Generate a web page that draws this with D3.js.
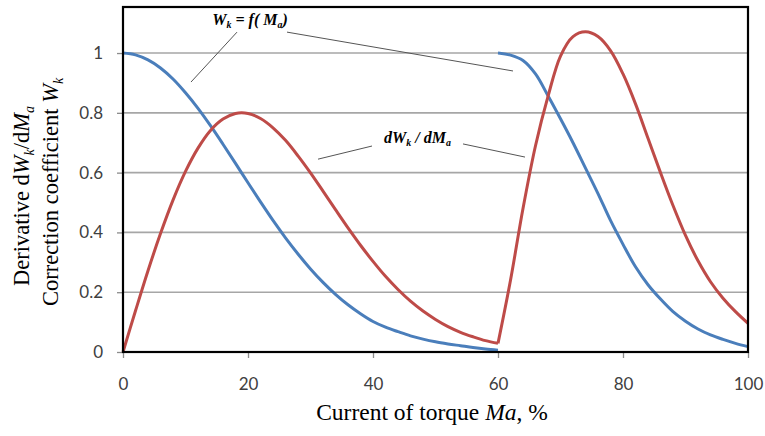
<!DOCTYPE html>
<html>
<head>
<meta charset="utf-8">
<script src="https://cdn.jsdelivr.net/npm/d3@7"></script>
<style>
  html, body { margin: 0; padding: 0; background: #fff; }
  svg { display: block; }
</style>
</head>
<body>
<svg id="chart" width="765" height="436"></svg>
<script>
// ---------- data ----------
const xPart1 = [0,2,4,6,8,10,12,14,16,18,20,22,24,26,28,30,32,34,36,38,40,42,44,46,48,50,52,54,56,58,60];
const wk1 = [1,0.994,0.977,0.95,0.913,0.867,0.815,0.757,0.695,0.631,0.566,0.502,0.44,0.382,0.328,0.278,0.233,0.193,0.158,0.128,0.102,0.083,0.068,0.054,0.043,0.034,0.027,0.021,0.015,0.01,0.006];
const dwk1 = [0,0.138,0.272,0.396,0.508,0.604,0.682,0.741,0.779,0.798,0.798,0.781,0.75,0.708,0.656,0.599,0.538,0.476,0.415,0.357,0.303,0.253,0.209,0.17,0.137,0.109,0.085,0.066,0.051,0.038,0.029];

const xPart2 = [60,62,64,66,68,70,72,74,76,78,80,82,84,86,88,90,92,94,96,98,100];
const wk2 = [1,0.993,0.975,0.93,0.857,0.78,0.7,0.615,0.53,0.44,0.36,0.285,0.225,0.177,0.135,0.103,0.077,0.057,0.042,0.029,0.018];
const dwk2 = [0.029,0.24,0.48,0.69,0.855,0.99,1.055,1.071,1.055,1.008,0.93,0.83,0.715,0.6,0.49,0.39,0.305,0.235,0.18,0.135,0.096];

const xTicks = [0,20,40,60,80,100];
const yTicks = [0,0.2,0.4,0.6,0.8,1];
const yTickLabels = ["0","0.2","0.4","0.6","0.8","1"];
const xDomain = [0,100];
const yDomain = [0,1.154];

// annotation leader lines, in data units
const leaderLines = [
  [[18.24,1.070],[10.88,0.903]],
  [[26.24,1.070],[62.4,0.940]],
  [[39.84,0.689],[31.2,0.645]],
  [[54.4,0.696],[64.32,0.652]]
];

// ---------- layout ----------
const svg = d3.select("#chart");
const L = 123, R = 748, T = 7, B = 352;
const x = d3.scaleLinear(xDomain, [L, R]);
const y = d3.scaleLinear(yDomain, [B, T]);

const blue = "#4a7ebb", red = "#be4b48";

// gridlines
svg.append("g").selectAll("line")
  .data(yTicks.filter(d => d > 0))
  .join("line")
  .attr("x1", L).attr("x2", R)
  .attr("y1", d => y(d)).attr("y2", d => y(d))
  .attr("stroke", "#a6a6a6").attr("stroke-width", 1.6);

// axes
const tickFont = "Lato, 'Open Sans', sans-serif";
const yAxis = svg.append("g").attr("transform", `translate(${L},0)`)
  .call(d3.axisLeft(y).tickValues(yTicks).tickSize(6).tickPadding(14)
    .tickFormat((d,i) => yTickLabels[i]));
const xAxis = svg.append("g").attr("transform", `translate(0,${B})`)
  .call(d3.axisBottom(x).tickValues(xTicks).tickSize(6).tickPadding(20));
[yAxis, xAxis].forEach(g => {
  g.select(".domain").remove();
  g.selectAll(".tick line").attr("stroke", "#8c8c8c").attr("stroke-width", 1.3);
  g.selectAll(".tick text").attr("fill", "#404040")
    .style("font-family", tickFont).style("font-size", "17px");
});

// curves
const line = d3.line().x(d => x(d[0])).y(d => y(d[1])).curve(d3.curveCatmullRom.alpha(0.5));
const series = [
  {xs: xPart1, ys: wk1, color: blue},
  {xs: xPart2, ys: wk2, color: blue},
  {xs: xPart1, ys: dwk1, color: red},
  {xs: xPart2, ys: dwk2, color: red}
];
svg.append("g").selectAll("path")
  .data(series)
  .join("path")
  .attr("d", s => line(s.xs.map((v, i) => [v, s.ys[i]])))
  .attr("fill", "none")
  .attr("stroke", s => s.color)
  .attr("stroke-width", 3)
  .attr("stroke-linejoin", "round");

// plot border
svg.append("rect")
  .attr("x", L).attr("y", T).attr("width", R - L).attr("height", B - T)
  .attr("fill", "none").attr("stroke", "#000").attr("stroke-width", 2.2);

// leader lines
svg.append("g").selectAll("line")
  .data(leaderLines)
  .join("line")
  .attr("x1", d => x(d[0][0])).attr("y1", d => y(d[0][1]))
  .attr("x2", d => x(d[1][0])).attr("y2", d => y(d[1][1]))
  .attr("stroke", "#555").attr("stroke-width", 1);

// annotation labels
const serif = "'Liberation Serif', 'Times New Roman', serif";
function richText(g, parts, size) {
  parts.forEach(p => {
    const t = g.append("tspan").text(p.t);
    if (p.i) t.style("font-style", "italic");
    if (p.sub) t.style("font-size", (size * 0.62) + "px").attr("dy", p.sub);
    if (p.up) t.attr("dy", p.up);
  });
}
const ann1 = svg.append("text")
  .attr("x", x(20.32)).attr("y", y(1.094))
  .attr("text-anchor", "middle")
  .style("font-family", serif).style("font-size", "16px")
  .style("font-weight", "bold").style("font-style", "italic");
richText(ann1, [
  {t: "W"}, {t: "k", sub: 3}, {t: " = f( M", up: -3}, {t: "a", sub: 3}, {t: ")", up: -3}
], 16);

const ann2 = svg.append("text")
  .attr("x", x(47.12)).attr("y", y(0.699))
  .attr("text-anchor", "middle")
  .style("font-family", serif).style("font-size", "16px")
  .style("font-weight", "bold").style("font-style", "italic");
richText(ann2, [
  {t: "dW"}, {t: "k", sub: 3}, {t: " / dM", up: -3}, {t: "a", sub: 3}
], 16);

// axis titles
const xt = svg.append("text")
  .attr("x", 432).attr("y", 420)
  .attr("text-anchor", "middle")
  .style("font-family", serif).style("font-size", "23.5px").attr("fill", "#000");
richText(xt, [{t: "Current of torque "}, {t: "Ma", i: true}, {t: ", %"}], 23.5);

const yt1 = svg.append("text")
  .attr("transform", "translate(28.5,196) rotate(-90)")
  .attr("text-anchor", "middle")
  .style("font-family", serif).style("font-size", "22.5px").attr("fill", "#000");
richText(yt1, [
  {t: "Derivative d"}, {t: "W", i: true}, {t: "k", i: true, sub: 5},
  {t: "/d", up: -5}, {t: "M", i: true}, {t: "a", i: true, sub: 5}
], 22.5);

const yt2 = svg.append("text")
  .attr("transform", "translate(57.5,192) rotate(-90)")
  .attr("text-anchor", "middle")
  .style("font-family", serif).style("font-size", "22.5px").attr("fill", "#000");
richText(yt2, [
  {t: "Correction coefficient "}, {t: "W", i: true}, {t: "k", i: true, sub: 5}
], 22.5);
</script>
</body>
</html>
